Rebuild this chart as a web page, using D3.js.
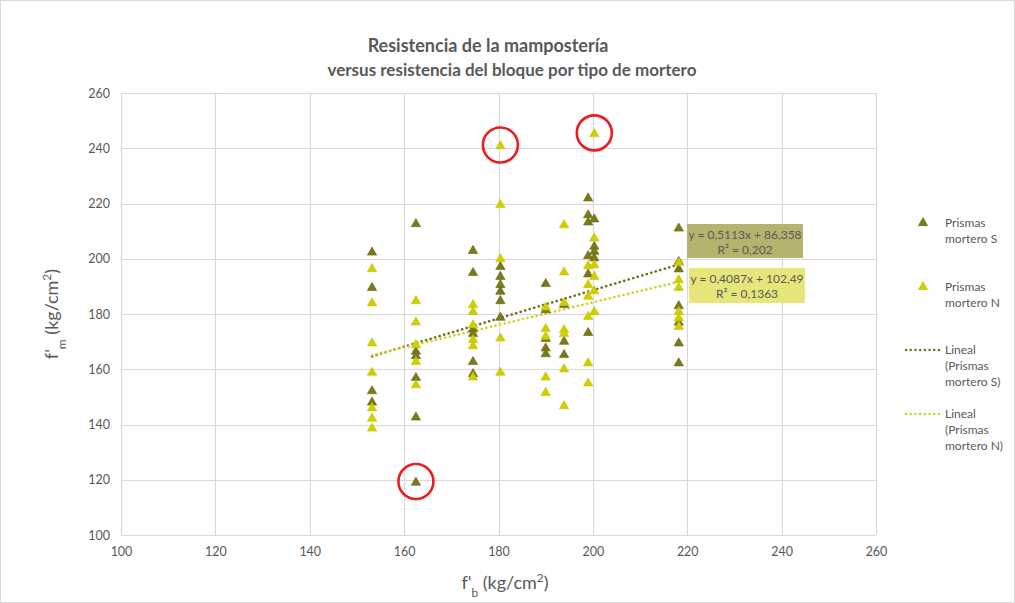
<!DOCTYPE html>
<html>
<head>
<meta charset="utf-8">
<script src="https://cdn.jsdelivr.net/npm/d3@7"></script>
<style>
  html, body { margin: 0; padding: 0; background: #ffffff; }
  svg { display: block; font-family: "Lato", "Open Sans", sans-serif; }
</style>
</head>
<body>
<svg id="chart" width="1015" height="603"></svg>
<script>
// Block strength f'b (x) and masonry strength f'm (y), per mortar type
const sX = [153.2,153.2,153.2,153.2,
            162.5,162.5,162.5,162.5,162.5,162.5,
            174.6,174.6,174.6,174.6,174.6,174.6,
            180.4,180.4,180.4,180.4,180.4,180.4,
            190.0,190.0,190.0,190.0,190.0,
            193.9,193.9,193.9,
            199.0,199.0,199.0,199.0,199.0,199.0,
            200.3,200.3,200.3,200.3,
            218.2,218.2,218.2,218.2,218.2,218.2,218.2];
const sY = [202.3,189.5,152.1,148.0,
            212.6,166.4,164.8,156.9,142.6,119.0,
            202.9,194.9,174.5,172.8,162.7,158.3,
            197.1,193.5,190.5,188.1,184.7,178.7,
            190.9,181.4,171.0,167.6,165.5,
            183.3,170.0,165.2,
            221.9,215.8,213.2,201.0,194.4,173.2,
            214.3,204.4,202.6,200.2,
            211.0,198.9,196.2,182.9,176.9,169.4,162.2];

const nX = [153.2,153.2,153.2,153.2,153.2,153.2,153.2,
            162.5,162.5,162.5,162.5,162.5,
            174.6,174.6,174.6,174.6,174.6,174.6,
            180.4,180.4,180.4,180.4,180.4,
            190.0,190.0,190.0,190.0,190.0,
            193.9,193.9,193.9,193.9,193.9,193.9,193.9,
            199.0,199.0,199.0,199.0,199.0,199.0,
            200.3,200.3,200.3,200.3,200.3,200.3,
            218.2,218.2,218.2,218.2,218.2,218.2];
const nY = [196.3,183.9,169.4,158.8,145.9,142.2,138.6,
            184.7,177.0,168.8,162.7,154.3,
            183.3,180.8,176.0,170.6,168.4,157.1,
            240.8,219.5,199.9,171.2,158.8,
            182.4,174.6,171.8,157.1,151.5,
            212.2,195.1,184.1,174.2,172.8,160.0,146.7,
            197.4,190.5,186.3,179.0,162.2,154.9,
            245.2,207.4,197.7,193.5,188.3,180.8,
            198.5,192.3,189.5,180.8,178.5,175.4];

// Linear trend lines: [slope, intercept], fitted range and R²
const trendS = [0.5113, 86.358];
const trendN = [0.4087, 102.49];
const trendRange = [153.2, 218.2];
const eqLabels = ["y = 0,5113x + 86,358", "y = 0,4087x + 102,49"];
const r2Labels = ["R² = 0,202", "R² = 0,1363"];

// Outlying specimens marked with a circle
const outlierX = [180.4, 200.3, 162.5];
const outlierY = [240.8, 245.2, 119.0];

const xTicks = [100,120,140,160,180,200,220,240,260];
const yTicks = [100,120,140,160,180,200,220,240,260];

const titleLines = ["Resistencia de la mampostería", "versus resistencia del bloque por tipo de mortero"];
const legendLabels = [["Prismas", "mortero S"], ["Prismas", "mortero N"],
                      ["Lineal", "(Prismas", "mortero S)"], ["Lineal", "(Prismas", "mortero N)"]];

const colS = "#7a7a1a", colSStroke = "#646410";
const colN = "#cfcf00", colNStroke = "#c2c200";
const lineS = "#6e6e18", lineN = "#cfd222";
const textCol = "#595959";

const svg = d3.select("#chart");
const W = 1015, H = 603;
const plot = {left: 121, right: 876, top: 93, bottom: 535};

const x = d3.scaleLinear().domain([100, 260]).range([plot.left, plot.right]);
const y = d3.scaleLinear().domain([100, 260]).range([plot.bottom, plot.top]);

// chart border
svg.append("rect").attr("x", 0.5).attr("y", 0.5).attr("width", W - 1).attr("height", H - 1)
  .attr("fill", "#fff").attr("stroke", "#d9d9d9");

// gridlines
const g = svg.append("g");
g.selectAll("line.gy").data(yTicks).join("line")
  .attr("x1", plot.left).attr("x2", plot.right)
  .attr("y1", d => Math.round(y(d)) + 0.5).attr("y2", d => Math.round(y(d)) + 0.5)
  .attr("stroke", "#d9d9d9").attr("stroke-width", 1.2);
g.selectAll("line.gx").data(xTicks).join("line")
  .attr("y1", plot.top).attr("y2", plot.bottom)
  .attr("x1", d => Math.round(x(d)) + 0.5).attr("x2", d => Math.round(x(d)) + 0.5)
  .attr("stroke", "#d9d9d9").attr("stroke-width", 1.2);

// axes (labels only, the grid gives the lines)
const xAxis = svg.append("g").attr("transform", `translate(0,${plot.bottom})`)
  .call(d3.axisBottom(x).tickValues(xTicks).tickSize(0).tickPadding(12));
const yAxis = svg.append("g").attr("transform", `translate(${plot.left},0)`)
  .call(d3.axisLeft(y).tickValues(yTicks).tickSize(0).tickPadding(11));
[xAxis, yAxis].forEach(a => {
  a.select(".domain").remove();
  a.selectAll("text").attr("fill", textCol).style("font-size", "12.5px")
    .style("font-family", "Lato, sans-serif");
});

// trend lines
function trendLine(coef, color) {
  const pts = trendRange.map(v => [x(v), y(coef[0] * v + coef[1])]);
  svg.append("path").attr("d", d3.line()(pts))
    .attr("fill", "none").attr("stroke", color).attr("stroke-width", 2.6)
    .attr("stroke-linecap", "round").attr("stroke-dasharray", "0.1 4.6");
}
trendLine(trendS, lineS);
trendLine(trendN, lineN);

// markers
const tri = d3.symbol().type(d3.symbolTriangle).size(38);
function markers(xs, ys, fill, stroke) {
  svg.append("g").selectAll("path").data(xs.map((v, i) => [v, ys[i]])).join("path")
    .attr("d", tri)
    .attr("transform", d => `translate(${x(d[0])},${y(d[1])})`)
    .attr("fill", fill).attr("stroke", stroke).attr("stroke-width", 0.6);
}
markers(sX, sY, colS, colSStroke);
markers(nX, nY, colN, colNStroke);

// equation labels
const boxes = [
  {fill: "#b5b36d", x0: 687, y0: 224, w: 116, h: 34},
  {fill: "#e6e67a", x0: 689, y0: 268, w: 116, h: 35}
];
boxes.forEach((b, i) => {
  svg.append("rect").attr("x", b.x0).attr("y", b.y0).attr("width", b.w).attr("height", b.h)
    .attr("fill", b.fill);
  svg.append("text").attr("x", b.x0 + b.w / 2).attr("y", b.y0 + 14.5)
    .attr("text-anchor", "middle").attr("fill", textCol).style("font-size", "12px")
    .text(eqLabels[i]);
  svg.append("text").attr("x", b.x0 + b.w / 2).attr("y", b.y0 + 30)
    .attr("text-anchor", "middle").attr("fill", textCol).style("font-size", "12px")
    .text(r2Labels[i]);
});

// outlier circles
svg.append("g").selectAll("circle").data(outlierX.map((v, i) => [v, outlierY[i]])).join("circle")
  .attr("cx", d => x(d[0])).attr("cy", d => y(d[1]) - 1)
  .attr("r", 17.5).attr("fill", "none").attr("stroke", "#ee1c1c").attr("stroke-width", 2.6);

// title
svg.append("text").attr("x", 488).attr("y", 52).attr("text-anchor", "middle")
  .attr("fill", textCol).style("font-size", "18px").style("font-weight", "bold")
  .text(titleLines[0]);
svg.append("text").attr("x", 512).attr("y", 76).attr("text-anchor", "middle")
  .attr("fill", textCol).style("font-size", "17px").style("font-weight", "bold")
  .text(titleLines[1]);

// axis titles
function axisTitle(sel, sub) {
  sel.attr("fill", textCol).style("font-size", "18px");
  sel.append("tspan").text("f'");
  sel.append("tspan").attr("baseline-shift", "sub").style("font-size", "12px").text(sub);
  sel.append("tspan").text(" (kg/cm");
  sel.append("tspan").attr("baseline-shift", "super").style("font-size", "12px").text("2");
  sel.append("tspan").text(")");
}
axisTitle(svg.append("text").attr("text-anchor", "middle")
  .attr("transform", "translate(58,314) rotate(-90)"), "m");
axisTitle(svg.append("text").attr("text-anchor", "middle")
  .attr("x", 505).attr("y", 589), "b");

// legend
const leg = svg.append("g").style("font-size", "12px").attr("fill", textCol);
const legRows = [223, 287, 350, 414];
legendLabels.forEach((lines, i) => {
  const yy = legRows[i];
  if (i < 2) {
    leg.append("path").attr("d", tri).attr("transform", `translate(923,${yy})`)
      .attr("fill", i === 0 ? colS : colN).attr("stroke", i === 0 ? colSStroke : colNStroke)
      .attr("stroke-width", 0.6);
  } else {
    leg.append("line").attr("x1", 906).attr("x2", 940).attr("y1", yy).attr("y2", yy)
      .attr("stroke", i === 2 ? lineS : lineN).attr("stroke-width", 2.4)
      .attr("stroke-linecap", "round").attr("stroke-dasharray", "0.1 4.6");
  }
  lines.forEach((t, j) => {
    leg.append("text").attr("x", 945).attr("y", yy + 4 + j * 16).text(t);
  });
});
</script>
</body>
</html>
